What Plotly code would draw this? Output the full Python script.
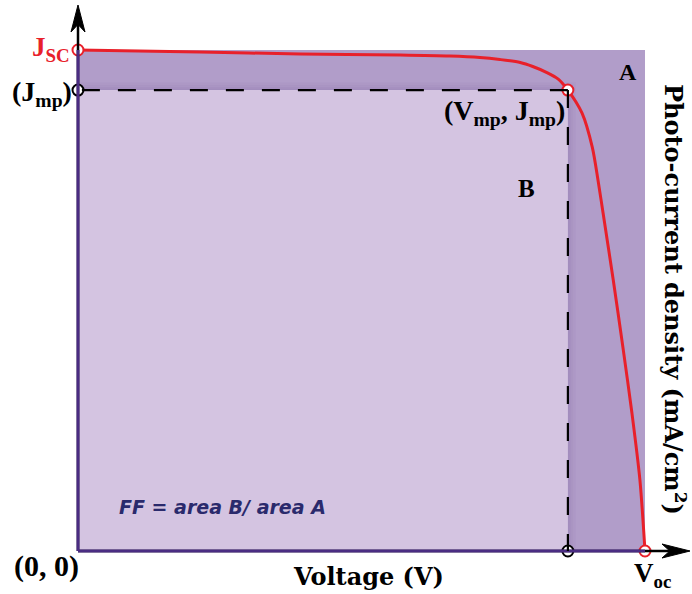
import plotly.graph_objects as go

# ---- data (normalised units: V / Voc, J / Jsc) ----
V_curve = [0.0, 0.215, 0.392, 0.568, 0.656, 0.709, 0.744, 0.780, 0.802, 0.827, 0.847, 0.864,
           0.889, 0.907, 0.917, 0.926, 0.944, 0.961, 0.977, 0.991, 1.0]
J_curve = [1.0, 0.996, 0.992, 0.990, 0.988, 0.985, 0.981, 0.975, 0.967, 0.955, 0.942, 0.920,
           0.874, 0.806, 0.741, 0.675, 0.541, 0.407, 0.275, 0.142, 0.0]
Jsc = 1.0
Voc = 1.0
Vmp = 0.864
Jmp = 0.920

# pixel scale of the drawing (canvas 692 x 594, origin at pixel (78, 551))
SX = 567.0
SY = 501.0
X0 = -78 / SX
X1 = (692 - 78) / SX
Y0 = -(594 - 551) / SY
Y1 = 551 / SY
px = 1 / SX
py = 1 / SY

RED = "#e8202a"
A_COL = "#b19dc9"
B_COL = "#d4c4e1"
BORDER = "#4a2c82"

fig = go.Figure()

shapes = []
# area A
shapes.append(dict(type="rect", xref="x", yref="y", x0=0, x1=Voc, y0=0, y1=Jsc,
                   fillcolor=A_COL, line_width=0, layer="below"))
# soft shadow around B
for i, a in enumerate([0.16, 0.12, 0.08, 0.05, 0.025]):
    shapes.append(dict(type="rect", xref="x", yref="y",
                       x0=Vmp + i * 1.6 * px, x1=Vmp + (i + 1) * 1.6 * px, y0=0, y1=Jmp + (i + 1) * 1.6 * py,
                       fillcolor=f"rgba(90,60,130,{a})", line_width=0, layer="below"))
    shapes.append(dict(type="rect", xref="x", yref="y",
                       x0=0, x1=Vmp + i * 1.6 * px, y0=Jmp + i * 1.6 * py, y1=Jmp + (i + 1) * 1.6 * py,
                       fillcolor=f"rgba(90,60,130,{a})", line_width=0, layer="below"))
# area B
shapes.append(dict(type="rect", xref="x", yref="y", x0=0, x1=Vmp, y0=0, y1=Jmp,
                   fillcolor=B_COL, line_width=0, layer="below"))
# axes (black)
yt = Y1 - 5 * py
xt = X1 - 2 * px
shapes.append(dict(type="line", xref="x", yref="y", x0=0, x1=0, y0=0, y1=yt - 15 * py,
                   line=dict(color="black", width=2.5)))
shapes.append(dict(type="line", xref="x", yref="y", x0=0, x1=xt - 15 * px, y0=0, y1=0,
                   line=dict(color="black", width=2.5)))
# purple border of the area
shapes.append(dict(type="line", xref="x", yref="y", x0=0, x1=0, y0=0, y1=Jsc,
                   line=dict(color=BORDER, width=3)))
shapes.append(dict(type="line", xref="x", yref="y", x0=0, x1=Voc, y0=0, y1=0,
                   line=dict(color=BORDER, width=3)))
# arrow heads
ah_w = 7 * px
ah_h = 27 * py
shapes.append(dict(type="path", xref="x", yref="y",
                   path=f"M {-ah_w} {yt - ah_h} L 0 {yt} L {ah_w} {yt - ah_h} L 0 {yt - ah_h*0.72} Z",
                   fillcolor="black", line=dict(color="black", width=1)))
aw = 28 * px
ahh = 7 * py
shapes.append(dict(type="path", xref="x", yref="y",
                   path=f"M {xt - aw} {ahh} L {xt} 0 L {xt - aw} {-ahh} L {xt - aw*0.72} 0 Z",
                   fillcolor="black", line=dict(color="black", width=1)))
# dashed max-power lines
shapes.append(dict(type="line", xref="x", yref="y", x0=Vmp, x1=0, y0=Jmp, y1=Jmp,
                   line=dict(color="black", width=2.2, dash="18px,18px")))
shapes.append(dict(type="line", xref="x", yref="y", x0=Vmp, x1=Vmp, y0=Jmp, y1=0,
                   line=dict(color="black", width=2.2, dash="18px,19px")))

# J-V curve
fig.add_trace(go.Scatter(x=V_curve, y=J_curve, mode="lines",
                         line=dict(color=RED, width=3, shape="spline", smoothing=0.8),
                         cliponaxis=False, hoverinfo="skip"))
# markers
fig.add_trace(go.Scatter(x=[0, Vmp, Voc], y=[Jsc, Jmp, 0], mode="markers",
                         marker=dict(size=11, color="white", line=dict(color=RED, width=2)),
                         cliponaxis=False, hoverinfo="skip"))
fig.add_trace(go.Scatter(x=[0, Vmp], y=[Jmp, 0], mode="markers",
                         marker=dict(size=11, color="white", line=dict(color="black", width=2)),
                         cliponaxis=False, hoverinfo="skip"))

SERIF = "Liberation Serif"
SERIF2 = "DejaVu Serif"

def ann(x, y, text, size, color="black", family=SERIF, xanchor="center", yanchor="middle", **kw):
    return dict(x=x, y=y, xref="x", yref="y", text=text, showarrow=False,
                font=dict(family=family, size=size, color=color),
                xanchor=xanchor, yanchor=yanchor, **kw)

annotations = [
    ann(-6 * px, Jsc + 1 * py, "<b>J<sub>SC</sub></b>", 27, RED, xanchor="right"),
    ann(-4 * px, Jmp - 3 * py, "<b>(J<sub>mp</sub>)</b>", 28, xanchor="right"),
    ann(Vmp - 1 * px, Jmp - 22 * py, "<b>(V<sub>mp</sub>, J<sub>mp</sub>)</b>", 28, xanchor="right"),
    ann(Voc - 17 * px, Jsc - 22 * py, "<b>A</b>", 24),
    ann((526 - 78) * px, (551 - 188) / SY, "<b>B</b>", 25),
    ann(39 * px, (551 - 507) / SY, "<b><i>FF = area B/ area A</i></b>", 19, "#2a2a6c",
        family="DejaVu Sans", xanchor="left"),
    ann(3 * px, -15 * py, "<b>(0, 0)</b>", 30, xanchor="right"),
    ann((368 - 78) * px, -25 * py, "<b>Voltage (V)</b>", 24, family=SERIF2),
    ann(Voc + 7 * px, -24 * py, "<b>V<sub>oc</sub></b>", 27),
    ann((675 - 78) * px, (551 - 299) / SY, "<b>Photo-current density (mA/cm<sup>2</sup>)</b>", 24,
        family=SERIF2, textangle=90),
]

fig.update_layout(
    width=692, height=594,
    margin=dict(l=0, r=0, t=0, b=0, pad=0, autoexpand=False),
    paper_bgcolor="white", plot_bgcolor="white",
    showlegend=False,
    xaxis=dict(range=[X0, X1], visible=False, fixedrange=True),
    yaxis=dict(range=[Y0, Y1], visible=False, fixedrange=True),
    shapes=shapes, annotations=annotations,
)

fig.write_html("out.html", config={"displayModeBar": False},
               post_script="document.body.style.margin='0px';")
